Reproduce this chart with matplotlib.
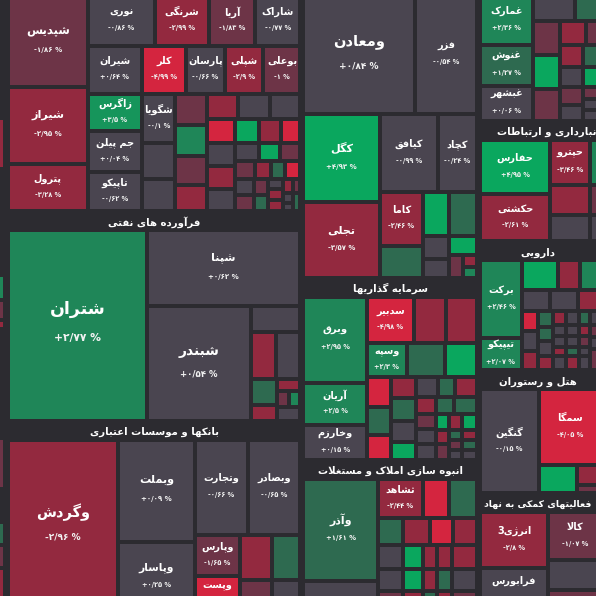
import matplotlib
matplotlib.use('Agg')
import matplotlib.pyplot as plt
from matplotlib.patches import Rectangle

BG = '#2c2b30'

# ---------------- data ----------------
# sectors (value = total market weight of the sector as drawn)
sector_titles = ['', '', 'فرآورده های نفتی', 'بانکها و موسسات اعتباری',
                 '', 'سرمایه گذاریها', 'انبوه سازی املاک و مستغلات',
                 '', 'حمل و نقل انبارداری و ارتباطات', 'دارویی',
                 'هتل و رستوران', 'فعالیتهای کمکی به نهاد']
sector_value = [292.6, 694.1, 620.1, 568.3, 531.3, 322.1, 269.2,
                179.9, 150.0, 160.6, 153.1, 148.2]
sector_align = ['center'] * 8 + ['left'] + ['center'] * 3
sector_tree = ('h', [0, ('v', [1, 2, 3]), ('v', [4, 5, 6]), ('v', [7, 8, 9, 10, 11])])

# edge strip (sector cut by the left border)
edge_names = [''] * 13
edge_change = [None, None, -2.5, None, 2.3, -1.4, -2.2, None, -1.6, None, 1.8, -1.3, -2.7]
edge_size = [20053, 1286, 536, 1113, 263, 210, 95, 1145, 536, 347, 242, 242, 467]
edge_tree = ('h', [0, ('v', list(range(1, 13)))])

# chemicals (header above the picture)
shimi_names = ['شپدیس', 'شیراز', 'پترول', 'نوری', 'شرنگی', 'آریا', 'شاراک',
               'شیران', 'کلر', 'پارسان', 'شپلی', 'بوعلی', 'زاگرس', 'جم پیلن',
               'تاپیکو', 'شگویا'] + [''] * 35
shimi_change = [-1.86, -2.95, -3.28, -0.86, -2.99, -1.83, -0.77, 0.64, -4.99, -0.66,
                -2.9, -1.0, 3.5, 0.04, -0.62, -0.1, -0.3, 0.2, -1.5, 2.4, -1.3, -2.6,
                -2.2, 0.3, -0.4, -4.5, 4.6, -2.5, -4.3, -0.5, -2.7, 0.1, -0.2, 4.2,
                -1.6, -1.4, -2.3, 1.5, -4.1, 0.3, -1.2, -1.7, 1.3, -0.2, -2.1, -2.4,
                -2.2, -1.1, 0.1, -0.3, 1.2]
shimi_size = [7366, 6199, 3784, 3384, 2727, 2323, 2298, 2565, 2090, 1853, 1829, 1758,
              2025, 2214, 2106, 1658, 1206, 1072, 992, 977, 914, 819, 794, 794, 769,
              666, 571, 524, 464, 658, 644, 616, 444, 389, 379, 360, 288, 252, 279,
              304, 304, 224, 224, 150, 165, 165, 147, 98, 105, 84, 126]
shimi_tree = ('h', [('v', [0, 1, 2]),
                    ('v', [('h', [3, 4, 5, 6]),
                           ('h', [7, 8, 9, 10, 11]),
                           ('h', [('v', [12, 13, 14]),
                                  ('v', [15, 16, 17]),
                                  ('v', [18, 19, 20, 21]),
                                  ('v', [('h', [22, 23, 24]),
                                         ('h', [25, 26, 27, 28]),
                                         ('h', [('v', [29, 30, 31]),
                                                ('v', [('h', [32, 33, 34]),
                                                       ('h', [35, 36, 37, 38]),
                                                       ('h', [('v', [39, 40]), ('v', [41, 42]),
                                                              ('v', [43, 44, 45]),
                                                              ('v', [('h', [46, 47]),
                                                                     ('h', [('v', [48, 49]), 50])])])])])])])])])

# oil products
naft_names = ['شتران', 'شپنا', 'شبندر'] + [''] * 9
naft_change = [2.77, 0.62, 0.54, -0.4, -2.5, 0.3, 1.6, -2.3, -2.1, -1.3, 2.2, -0.2]
naft_size = [26575, 11743, 11856, 1238, 1188, 1164, 676, 403, 282, 192, 184, 317]
naft_tree = ('h', [0, ('v', [1, ('h', [2, ('v', [3, ('h', [4, 5]),
                                              ('h', [('v', [6, 7]),
                                                     ('v', [8, ('h', [9, 10]), 11])])])])])])

# banks
bank_names = ['وگردش', 'وبملت', 'وپاسار', 'وتجارت', 'وبصادر', 'وپارس', 'وپست'] + [''] * 4
bank_change = [-2.96, 0.09, 0.25, -0.66, -0.65, -1.65, -4.5, -2.8, 1.9, -1.2, -0.5]
bank_size = [19117, 7893, 5429, 5062, 5014, 1823, 1665, 1440, 1283, 1040, 926]
bank_tree = ('h', [0, ('v', [1, 2]),
                   ('v', [('h', [3, 4]),
                          ('h', [('v', [5, 6]), ('v', [('h', [7, 8]), ('h', [9, 10])])])])])

# basic metals (header above the picture)
felez_names = ['ومعادن', 'فزر', 'کگل', 'تجلی', 'کیافق', 'کچاد', 'کاما'] + [''] * 9
felez_change = [0.84, -0.54, 4.93, -3.57, -0.99, -0.24, -2.46, 1.7, 4.4, 1.5,
                0.2, -0.3, 4.1, -1.5, -2.4, 2.2]
felez_size = [13269, 7378, 6732, 5738, 4495, 3023, 2301, 1376, 1144, 1232,
              598, 481, 532, 315, 168, 147]
felez_tree = ('v', [('h', [0, 1]),
                    ('h', [('v', [2, 3]),
                           ('v', [('h', [4, 5]),
                                  ('h', [('v', [6, 7]),
                                         ('v', [('h', [8, 9]),
                                                ('h', [('v', [10, 11]),
                                                       ('v', [12, ('h', [13, ('v', [14, 15])])])])])])])])])

# investments
sarm_names = ['وبرق', 'آریان', 'وخارزم', 'سدبیر', '', '', 'وسپه'] + [''] * 29
sarm_change = [2.95, 2.5, 0.15, -4.98, -2.7, -2.6, 2.3, 1.9, 4.6, -4.2, 1.4, -4.0,
               -2.3, 1.6, -0.4, 4.3, -0.2, 1.5, -2.2, -2.4, 1.7, 1.4, -1.4, 0.3, -0.1,
               4.0, -2.3, -1.2, -2.1, 1.3, -1.1, 0.2, 4.2, -2.5, 1.2, -0.3]
sarm_size = [5493, 2667, 2223, 2186, 1488, 1442, 1360, 1292, 1088, 720, 672, 600,
             525, 575, 525, 450, 440, 340, 440, 340, 306, 391, 300, 300, 320,
             200, 175, 200, 208, 130, 130, 130, 248, 155, 155, 155]
sarm_tree = ('h', [('v', [0, 1, 2]),
                   ('v', [('h', [3, 4, 5]),
                          ('h', [6, 7, 8]),
                          ('h', [('v', [9, 10, 11]),
                                 ('v', [12, 13, 14, 15]),
                                 ('v', [('h', [16, 17, 18]),
                                        ('h', [19, 20, 21]),
                                        ('h', [('v', [22, 23, 24]), ('v', [25, 26, 27]),
                                               ('v', [28, 29, 30, 31]), ('v', [32, 33, 34, 35])])])])])])

# real estate
maskan_names = ['وآذر', '', 'ثشاهد'] + [''] * 21
maskan_change = [1.61, -0.3, -2.44, -4.4, 1.9, 1.5, -2.6, -4.3, -2.4, -0.2, 0.4, -1.3,
                 4.5, 4.2, -2.2, -2.5, -2.1, 1.4, -2.3, 1.6, -2.8, -2.6, -0.4, -1.5]
maskan_size = [7599, 2347, 1755, 1014, 1092, 675, 743, 608, 648, 600, 550, 538,
               480, 440, 430, 336, 308, 301, 360, 330, 323, 600, 550, 538]
maskan_tree = ('h', [('v', [0, 1]),
                     ('v', [('h', [2, 3, 4]),
                            ('h', [5, 6, 7, 8]),
                            ('h', [('v', [9, 10, 11]), ('v', [12, 13, 14]), ('v', [15, 16, 17]),
                                   ('v', [18, 19, 20]), ('v', [21, 22, 23])])])])

# food (header above the picture)
ghaza_names = ['غمارک', 'غنوش', 'غبشهر'] + [''] * 16
ghaza_change = [2.36, 1.27, 0.06, -0.3, 1.5, -1.4, 4.5, -1.2, -2.6, -1.5, -2.3,
                -0.2, 1.7, 4.2, -1.3, 0.1, -1.1, -0.3, 0.2]
ghaza_size = [2648, 2167, 1899, 1071, 663, 901, 901, 848, 637, 380, 495, 460,
              398, 370, 414, 368, 222, 204, 204]
ghaza_tree = ('h', [('v', [0, 1, 2]),
                    ('v', [('h', [3, 4]),
                           ('h', [('v', [5, 6, 7]),
                                  ('v', [('h', [8, 9]),
                                         ('h', [('v', [10, 11]), ('v', [12, 13])]),
                                         ('h', [('v', [14, 15]), ('v', [16, 17, 18])])])])])])

# transport
haml_names = ['حفارس', 'حکشتی', 'حپترو', '', '', '', '', '']
haml_change = [4.95, -2.61, -3.46, -2.4, -0.6, 2.2, -1.5, 0.3]
haml_size = [3815, 3290, 1778, 1205, 1027, 540, 366, 312]
haml_tree = ('h', [('v', [0, 1]), ('v', [2, 3, 4]), ('v', [5, 6, 7])])

# pharma
daroo_names = ['برکت', 'تیپیکو'] + [''] * 32
daroo_change = [2.46, 2.07, 4.4, -2.5, 2.3, -0.4, 0.2, -2.2, -4.3, -0.3, -2.6,
                1.5, 1.3, 0.1, -2.4, -2.2, -0.2, 0.3, -2.1, -0.5, 0.2, -0.4, 0.1,
                1.4, -2.3, 1.6, -2.2, -1.3, -0.2, 0.3, -0.1, -1.4, 0.2, -1.2]
daroo_size = [3255, 1365, 1062, 649, 634, 588, 588, 494, 320, 320, 312,
              240, 210, 225, 218, 182, 143, 143, 117, 189, 182, 143, 143,
              117, 189, 154, 121, 121, 99, 160, 161, 138, 138, 247]
daroo_tree = ('h', [('v', [0, 1]),
                    ('v', [('h', [2, 3, 4]),
                           ('h', [5, 6, 7]),
                           ('h', [('v', [8, 9, 10]), ('v', [11, 12, 13, 14]),
                                  ('v', [15, 16, 17, 18, 19]), ('v', [20, 21, 22, 23, 24]),
                                  ('v', [25, 26, 27, 28, 29]), ('v', [30, 31, 32, 33])])])])

# hotels
hotel_names = ['گنگین', 'سمگا', '', '', '']
hotel_change = [-0.15, -4.05, 4.6, -2.6, -1.3]
hotel_size = [6136, 4750, 1064, 490, 196]
hotel_tree = ('h', [0, ('v', [1, ('h', [2, ('v', [3, 4])])])])

# financial support activities
nahad_names = ['انرژی3', 'فرابورس', 'کالا', '', '']
nahad_change = [-2.8, -0.5, -1.07, -0.3, -1.2]
nahad_size = [3774, 3026, 2541, 1605, 1204]
nahad_tree = ('h', [('v', [0, 1]), ('v', [2, 3, 4])])

sectors = [
    (edge_names, edge_change, edge_size, edge_tree),
    (shimi_names, shimi_change, shimi_size, shimi_tree),
    (naft_names, naft_change, naft_size, naft_tree),
    (bank_names, bank_change, bank_size, bank_tree),
    (felez_names, felez_change, felez_size, felez_tree),
    (sarm_names, sarm_change, sarm_size, sarm_tree),
    (maskan_names, maskan_change, maskan_size, maskan_tree),
    (ghaza_names, ghaza_change, ghaza_size, ghaza_tree),
    (haml_names, haml_change, haml_size, haml_tree),
    (daroo_names, daroo_change, daroo_size, daroo_tree),
    (hotel_names, hotel_change, hotel_size, hotel_tree),
    (nahad_names, nahad_change, nahad_size, nahad_tree),
]

# ---------------- persian shaping (matplotlib has no bidi / joining) ----------------
FORMS = {
    'ا': ('\uFE8D', '\uFE8E', None, None), 'آ': ('\uFE81', '\uFE82', None, None),
    'ب': ('\uFE8F', '\uFE90', '\uFE91', '\uFE92'), 'پ': ('\uFB56', '\uFB57', '\uFB58', '\uFB59'),
    'ت': ('\uFE95', '\uFE96', '\uFE97', '\uFE98'), 'ث': ('\uFE99', '\uFE9A', '\uFE9B', '\uFE9C'),
    'ج': ('\uFE9D', '\uFE9E', '\uFE9F', '\uFEA0'), 'چ': ('\uFB7A', '\uFB7B', '\uFB7C', '\uFB7D'),
    'ح': ('\uFEA1', '\uFEA2', '\uFEA3', '\uFEA4'), 'خ': ('\uFEA5', '\uFEA6', '\uFEA7', '\uFEA8'),
    'د': ('\uFEA9', '\uFEAA', None, None), 'ذ': ('\uFEAB', '\uFEAC', None, None),
    'ر': ('\uFEAD', '\uFEAE', None, None), 'ز': ('\uFEAF', '\uFEB0', None, None),
    'ژ': ('\uFB8A', '\uFB8B', None, None),
    'س': ('\uFEB1', '\uFEB2', '\uFEB3', '\uFEB4'), 'ش': ('\uFEB5', '\uFEB6', '\uFEB7', '\uFEB8'),
    'ص': ('\uFEB9', '\uFEBA', '\uFEBB', '\uFEBC'), 'ض': ('\uFEBD', '\uFEBE', '\uFEBF', '\uFEC0'),
    'ط': ('\uFEC1', '\uFEC2', '\uFEC3', '\uFEC4'), 'ظ': ('\uFEC5', '\uFEC6', '\uFEC7', '\uFEC8'),
    'ع': ('\uFEC9', '\uFECA', '\uFECB', '\uFECC'), 'غ': ('\uFECD', '\uFECE', '\uFECF', '\uFED0'),
    'ف': ('\uFED1', '\uFED2', '\uFED3', '\uFED4'), 'ق': ('\uFED5', '\uFED6', '\uFED7', '\uFED8'),
    'ک': ('\uFB8E', '\uFB8F', '\uFB90', '\uFB91'), 'گ': ('\uFB92', '\uFB93', '\uFB94', '\uFB95'),
    'ل': ('\uFEDD', '\uFEDE', '\uFEDF', '\uFEE0'), 'م': ('\uFEE1', '\uFEE2', '\uFEE3', '\uFEE4'),
    'ن': ('\uFEE5', '\uFEE6', '\uFEE7', '\uFEE8'), 'ه': ('\uFEE9', '\uFEEA', '\uFEEB', '\uFEEC'),
    'و': ('\uFEED', '\uFEEE', None, None), 'ی': ('\uFBFC', '\uFBFD', '\uFBFE', '\uFBFF'),
    'لا': ('\uFEFB', '\uFEFC', None, None), 'لآ': ('\uFEF5', '\uFEF6', None, None),
}


def shape(text):
    toks = []
    i = 0
    while i < len(text):
        if text[i] == 'ل' and i + 1 < len(text) and text[i + 1] in 'اآ':
            toks.append(text[i:i + 2])
            i += 2
        else:
            toks.append(text[i])
            i += 1
    out = []
    for k, t in enumerate(toks):
        if t not in FORMS:
            out.append(t)
            continue
        prev = toks[k - 1] if k > 0 else None
        nxt = toks[k + 1] if k + 1 < len(toks) else None
        jp = prev in FORMS and FORMS[prev][2] is not None
        jn = FORMS[t][2] is not None and nxt in FORMS
        iso, fin, ini, med = FORMS[t]
        out.append(med if jp and jn else fin if jp else ini if jn else iso)
    # visual order: right-to-left, digit runs kept left-to-right
    runs, cur, cur_ltr = [], '', None
    for ch in out:
        ltr = ch.isdigit() and ch.isascii()
        if cur and ltr != cur_ltr:
            runs.append((cur, cur_ltr))
            cur = ''
        cur += ch
        cur_ltr = ltr
    if cur:
        runs.append((cur, cur_ltr))
    return ''.join(r if ltr else r[::-1] for r, ltr in reversed(runs))


FA_DIGITS = str.maketrans('0123456789', '۰۱۲۳۴۵۶۷۸۹')


def pct_label(c):
    s = f'{abs(c):.2f}'.rstrip('0').rstrip('.').replace('.', '/')
    sign = '+' if c > 0 else '-' if c < 0 else ''
    return sign + s.translate(FA_DIGITS) + ' %'


def cell_color(c):
    if c <= -4:
        return '#d4253f'
    if c <= -2:
        return '#93293f'
    if c <= -1:
        return '#6d3447'
    if c < 1:
        return '#4a4550'
    if c < 2:
        return '#2e6a50'
    if c < 3.2:
        return '#1f8658'
    if c < 4:
        return '#16955b'
    return '#0aa75e'


def weight(node, sizes):
    if isinstance(node, int):
        return sizes[node]
    return sum(weight(k, sizes) for k in node[1])


def split(node, x, y, w, h, sizes, out):
    if isinstance(node, int):
        out.append((node, x, y, w, h))
        return
    kind, kids = node
    tot = [weight(k, sizes) for k in kids]
    s = sum(tot)
    for k, t in zip(kids, tot):
        if kind == 'h':
            d = w * t / s
            split(k, x, y, d, h, sizes, out)
            x += d
        else:
            d = h * t / s
            split(k, x, y, w, d, sizes, out)
            y += d


# ---------------- drawing ----------------
fig = plt.figure(figsize=(5.96, 5.96), dpi=100, facecolor=BG)
ax = fig.add_axes([0, 0, 1, 1])
ax.set_facecolor(BG)
ax.set_xlim(0, 596)
ax.set_ylim(596, 0)
ax.axis('off')
renderer = fig.canvas.get_renderer()

FONT = ['DejaVu Sans']
PAD, HEAD, GAP = 1.5, 16, 2
HEAD_FS = 7.3

boxes = []
split(sector_tree, -40, -22, 643, 636, sector_value, boxes)
for si, sx, sy, sw, sh in boxes:
    names, change, size, tree = sectors[si]
    sx, sy, sw, sh = sx + PAD, sy + PAD, sw - 2 * PAD, sh - 2 * PAD
    title = sector_titles[si]
    if title:
        if sector_align[si] == 'left':
            ax.text(sx + 17, sy + HEAD / 2, shape(title), ha='left', va='center',
                    color='white', fontsize=HEAD_FS, fontweight='bold', family=FONT)
        else:
            left, right = max(sx, 0), min(sx + sw, 596)
            t = ax.text((left + right) / 2, sy + HEAD / 2, shape(title), ha='center',
                        va='center', color='white', fontsize=HEAD_FS, fontweight='bold',
                        family=FONT)
            tw = t.get_window_extent(renderer).width
            avail = right - left - 8
            if tw > avail:
                t.set_fontsize(HEAD_FS * avail / tw)
    cells = []
    split(tree, sx, sy + HEAD, sw, sh - HEAD, size, cells)
    for i, cx, cy, cw, ch in cells:
        c = change[i]
        if c is None:
            continue
        x0, y0, w0, h0 = cx + GAP, cy + GAP, cw - 2 * GAP, ch - 2 * GAP
        if w0 <= 0 or h0 <= 0:
            continue
        ax.add_patch(Rectangle((x0, y0), w0, h0, facecolor=cell_color(c), edgecolor='none'))
        if names[i] and w0 >= 28 and h0 >= 26:
            fs = min(12.5, max(7, 3 + 0.07 * min(w0, h0)))
            xc, yc = x0 + w0 / 2, y0 + h0 / 2
            ax.text(xc, yc - 1.3 * fs, shape(names[i]), ha='center', va='center',
                    color='white', fontsize=fs, fontweight='bold', family=FONT)
            yp = yc + 1.05 * fs
            if yp < 590:  # the change line of cells cut by the bottom edge is hidden
                ax.text(xc, yp, pct_label(c), ha='center', va='center',
                        color='#f2f2f2', fontsize=max(4.8, 0.62 * fs), fontweight='bold',
                        family=FONT)

fig.savefig('out.png', dpi=100, facecolor=BG)
